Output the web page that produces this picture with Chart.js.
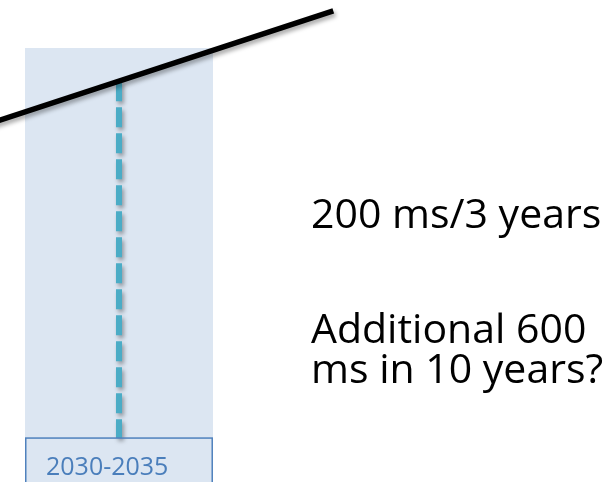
<!DOCTYPE html>
<html>
<head>
<meta charset="utf-8">
<script src="https://cdn.jsdelivr.net/npm/chart.js@4/dist/chart.umd.min.js"></script>
<style>
  html, body { margin: 0; padding: 0; background: #ffffff; }
  #wrap { width: 613px; height: 482px; position: relative; }
</style>
</head>
<body>
<div id="wrap"><canvas id="c"></canvas></div>
<script>
// ---- data (years on x, latency in ms on y) ----
const periodLabel = "2030-2035";
const periodYears = [2030, 2035];
const periodTopMs = 2341;
const labelTopMs = 237;
const trendYears = [2029, 2038.2];
const trendMs = [1930, 2541];
const markerYear = 2032.5;
const markerMs = [2162, 237];
const noteLines = ["200 ms/3 years", "", "Additional 600", "ms in 10 years?"];
const xRange = [2029.335, 2045.64];
const yRange = [0, 2600];

const shadowPlugin = {
  id: 'shadows',
  beforeDatasetDraw(chart, args) {
    const ds = chart.data.datasets[args.index];
    if (ds.shadow) {
      const ctx = chart.ctx;
      ctx.save();
      ctx.shadowColor = 'rgba(0,0,0,0.35)';
      ctx.shadowBlur = 4;
      ctx.shadowOffsetX = 2;
      ctx.shadowOffsetY = 3;
    }
  },
  afterDatasetDraw(chart, args) {
    const ds = chart.data.datasets[args.index];
    if (ds.shadow) chart.ctx.restore();
  }
};

const annotPlugin = {
  id: 'annot',
  afterDatasetsDraw(chart) {
    const ctx = chart.ctx;
    const xs = chart.scales.x, ys = chart.scales.y;
    // label box
    const x0 = xs.getPixelForValue(periodYears[0]);
    const x1 = xs.getPixelForValue(periodYears[1]);
    const yt = ys.getPixelForValue(labelTopMs);
    const yb = ys.getPixelForValue(0);
    ctx.save();
    ctx.strokeStyle = '#4f81bd';
    ctx.lineWidth = 1.5;
    ctx.strokeRect(x0 + 0.75, yt, x1 - x0 - 1.5, yb - yt + 5);
    ctx.fillStyle = '#4a7ebb';
    ctx.font = '25px "Open Sans"';
    ctx.textBaseline = 'alphabetic';
    ctx.textAlign = 'left';
    ctx.fillText(periodLabel, x0 + 21, yt + 37);
    // notes
    ctx.fillStyle = '#000000';
    ctx.font = '41px "Open Sans"';
    const left = 311;
    const base = [228, 0, 343, 383];
    noteLines.forEach((t, i) => { if (t) ctx.fillText(t, left, base[i]); });
    ctx.restore();
  }
};

new Chart(document.getElementById('c'), {
  type: 'line',
  data: {
    datasets: [
      {
        label: 'trend',
        data: trendYears.map((x, i) => ({ x, y: trendMs[i] })),
        borderColor: '#000000',
        borderWidth: 5.5,
        borderCapStyle: 'butt',
        pointRadius: 0,
        fill: false,
        shadow: true,
        order: 1
      },
      {
        label: 'marker',
        data: markerMs.map(y => ({ x: markerYear, y })),
        borderColor: '#4bacc6',
        borderWidth: 6,
        borderDash: [20, 6],
        borderCapStyle: 'butt',
        pointRadius: 0,
        fill: false,
        shadow: true,
        order: 2
      },
      {
        label: 'period',
        data: periodYears.map(x => ({ x, y: periodTopMs })),
        borderWidth: 0,
        borderColor: 'rgba(0,0,0,0)',
        backgroundColor: '#dce6f2',
        pointRadius: 0,
        fill: 'origin',
        order: 3
      }
    ]
  },
  options: {
    responsive: true,
    maintainAspectRatio: false,
    animation: false,
    layout: { padding: 0 },
    elements: { line: { tension: 0 } },
    plugins: { legend: { display: false }, tooltip: { enabled: false } },
    scales: {
      x: { type: 'linear', min: xRange[0], max: xRange[1], display: false },
      y: { type: 'linear', min: yRange[0], max: yRange[1], display: false }
    }
  },
  plugins: [shadowPlugin, annotPlugin]
});
</script>
</body>
</html>
